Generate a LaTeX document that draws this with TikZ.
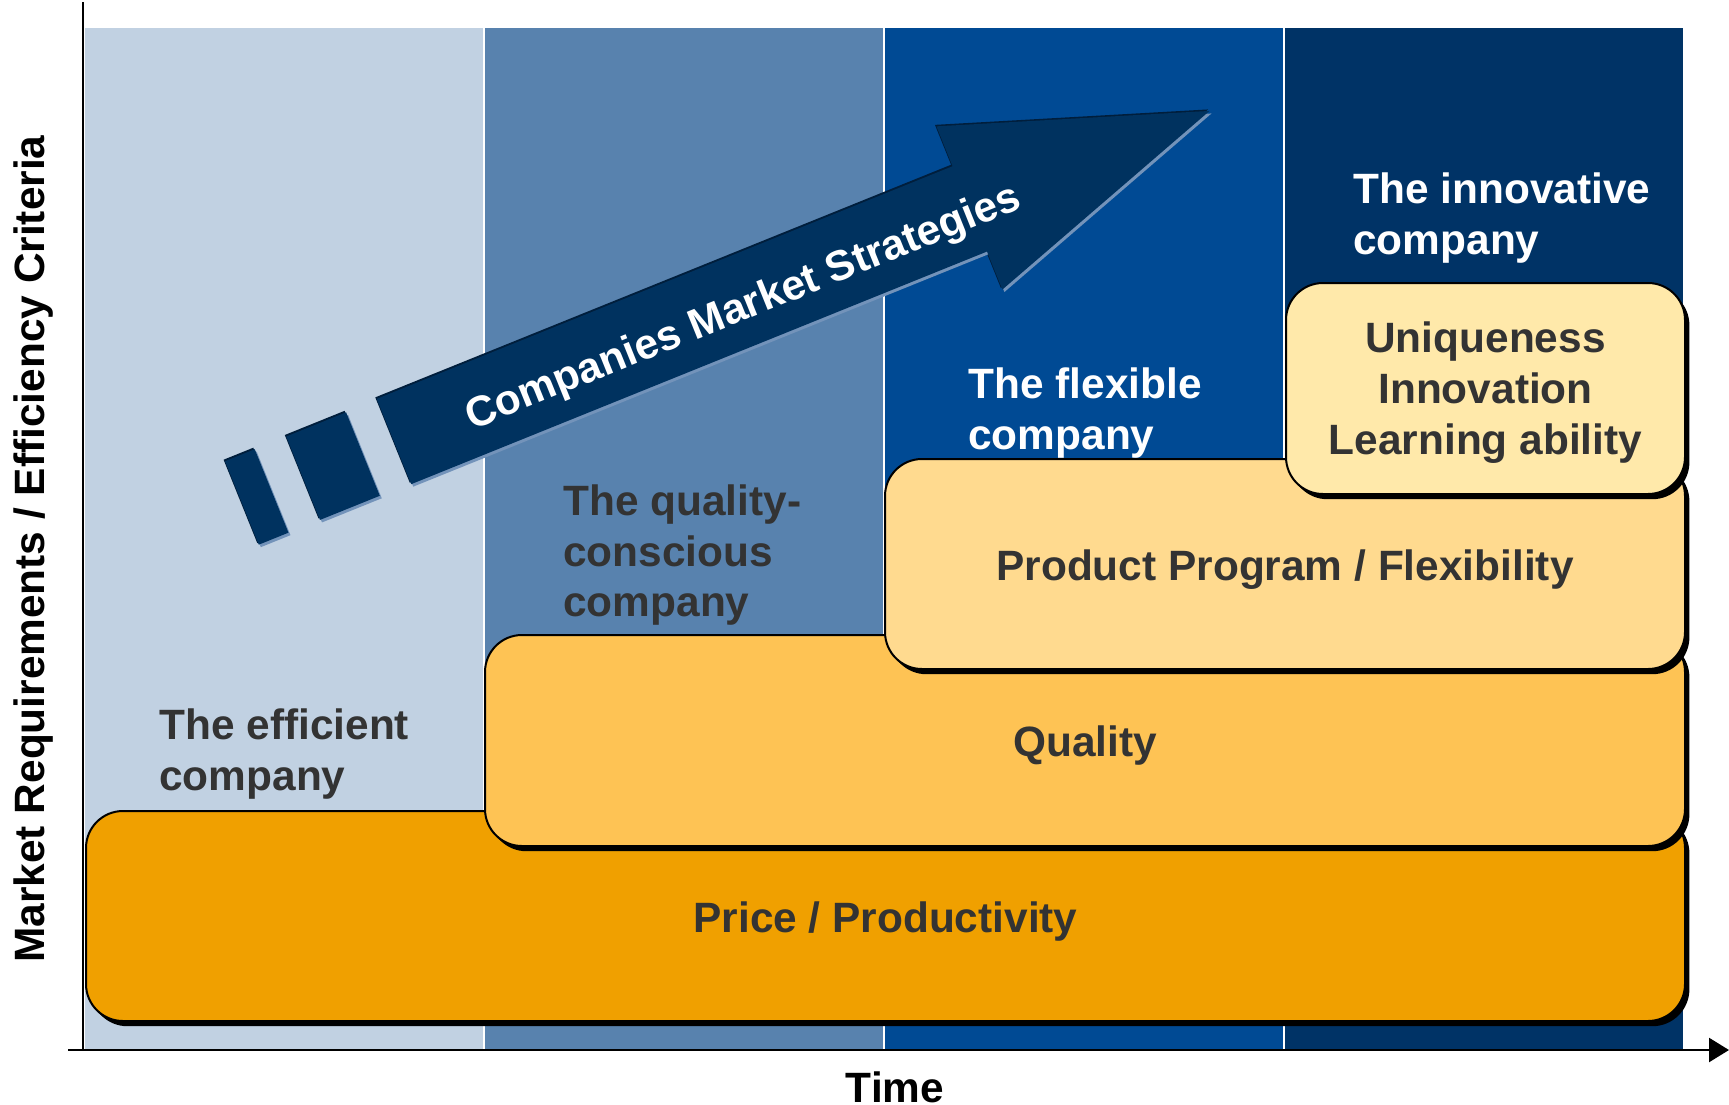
\documentclass[tikz,border=0pt]{standalone}
\usepackage{fontspec}
\setmainfont{Liberation Sans}
\usetikzlibrary{arrows.meta, shadows}

\definecolor{colA}{HTML}{C1D1E2}
\definecolor{colB}{HTML}{5882AE}
\definecolor{colC}{HTML}{004A94}
\definecolor{colD}{HTML}{003366}
\definecolor{lvlA}{HTML}{F0A000}
\definecolor{lvlB}{HTML}{FEC354}
\definecolor{lvlC}{HTML}{FFDA8F}
\definecolor{lvlD}{HTML}{FFE9AA}
\definecolor{txt}{HTML}{333333}
\definecolor{arrFill}{HTML}{00325F}
\definecolor{arrEdge}{HTML}{001E3C}
\definecolor{arrShade}{HTML}{7393BA}

\begin{document}
\begin{tikzpicture}[
  x=0.5pt, y=-0.5pt,
  every node/.style={font=\fontsize{21.2}{25.45}\selectfont\bfseries, text=txt, inner sep=0pt},
  tier/.style={draw=black, line width=1pt, rounded corners=18.5pt, anchor=north west,
    drop shadow={shadow xshift=2.2pt, shadow yshift=-2.6pt, fill=black, opacity=1}},
  tiertext/.style={align=center},
  stage/.style={anchor=north west, align=left},
  axisline/.style={line width=1.2pt, black},
]
\useasboundingbox (0,0) rectangle (1729,1104);

% time periods
\foreach \x/\c in {85/colA, 485/colB, 885/colC, 1285/colD}
  \fill[\c] (\x,28) rectangle ++(398,1021);

% strategy arrow with its two tail blocks
\foreach \dx/\dy/\c in {-1.5/-1.5/arrEdge, 2/2.5/arrShade, 0/0/arrFill}{
  \begin{scope}[shift={(394+\dx,441.5+\dy)}, rotate=22]
    \fill[\c] (-164,-45) rectangle (-132,45);
    \fill[\c] (-98,-45) rectangle (-33.5,45);
    \fill[\c] (0,-46) -- (621,-46) -- (621,-89) -- (880,-1) -- (621,87) -- (621,46) -- (0,46) -- cycle;
  \end{scope}
}
\begin{scope}[shift={(394,441.5)}, rotate=22]
  \node[text=white, rotate=22] (strat) at (374,8) {Companies Market Strategies};
\end{scope}

% axes
\coordinate (top) at (83,2);
\coordinate (origin) at (83,1050);
\coordinate (tail) at (68,1050);
\coordinate (end) at (1729,1050);
\draw[axisline] (top) -- (origin);
\draw[axisline, -{Triangle[length=10pt, width=12pt]}] (tail) -- (end);

% requirement levels
\node[tier, fill=lvlA, minimum width=799.5pt, minimum height=105pt] (price) at (85,810) {};
\node[tiertext] (priceText) at ([yshift=-2.7pt]price.center) {Price / Productivity};
\node[tier, fill=lvlB, minimum width=600pt, minimum height=105.5pt] (quality) at (484,634) {};
\node[tiertext] (qualityText) at ([yshift=-2.7pt]quality.center) {Quality};
\node[tier, fill=lvlC, minimum width=400pt, minimum height=105pt] (product) at (884,458) {};
\node[tiertext] (productText) at ([yshift=-2.7pt]product.center) {Product Program / Flexibility};
\node[tier, fill=lvlD, minimum width=199.5pt, minimum height=105.5pt] (unique) at (1285,282) {};
\node[tiertext] (uniqueText) at ([yshift=-2.2pt]unique.center) {Uniqueness\\Innovation\\Learning ability};

% company types
\node[stage] (efficient) at (159,708) {The efficient\\company};
\node[stage] (conscious) at (563,484) {The quality-\\conscious\\company};
\node[stage, text=white] (flexible) at (968,367) {The flexible\\company};
\node[stage, text=white] (innovative) at (1353,172) {The innovative\\company};

% axis labels
\node[rotate=90, text=black] (ylab) at (34,549) {Market Requirements / Efficiency Criteria};
\node[anchor=base, text=black] (time) at (895,1102) {Time};
\end{tikzpicture}
\end{document}
